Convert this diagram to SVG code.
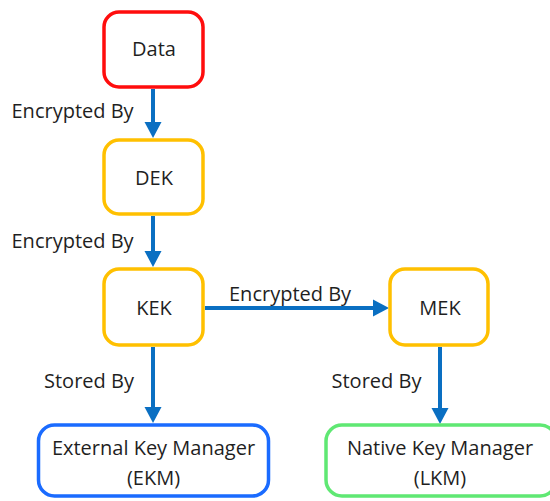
<svg xmlns="http://www.w3.org/2000/svg" width="550" height="501" viewBox="0 0 550 501">
<style>
  .box { fill: #ffffff; stroke-width: 3.5; }
  .red { stroke: #ff0d0d; }
  .yel { stroke: #ffc000; }
  .blu { stroke: #1a6bff; }
  .grn { stroke: #5fe873; }
  text { font-family: "Open Sans", "Noto Sans", sans-serif; font-size: 20px; fill: #1f1f1f; }
  .c { text-anchor: middle; }
  .shaft { stroke: #0a6fc2; stroke-width: 4; fill: none; }
  .head { fill: #0a6fc2; }
</style>
<rect width="550" height="501" fill="#ffffff"/>
<g id="connectors">
  <g id="data-dek">
    <line class="shaft" x1="153" y1="89" x2="153" y2="124"/>
    <polygon class="head" points="144.5,122 161.5,122 153,138"/>
  </g>
  <g id="dek-kek">
    <line class="shaft" x1="153" y1="216" x2="153" y2="253"/>
    <polygon class="head" points="144.5,251 161.5,251 153,267"/>
  </g>
  <g id="kek-mek">
    <line class="shaft" x1="205" y1="308" x2="375" y2="308"/>
    <polygon class="head" points="373,299.5 373,316.5 389,308"/>
  </g>
  <g id="kek-ekm">
    <line class="shaft" x1="153" y1="347" x2="153" y2="409"/>
    <polygon class="head" points="144.5,407 161.5,407 153,423"/>
  </g>
  <g id="mek-lkm">
    <line class="shaft" x1="440" y1="347" x2="440" y2="410"/>
    <polygon class="head" points="431.5,408 448.5,408 440,424"/>
  </g>
  <text x="11.5" y="118">Encrypted By</text>
  <text x="11.5" y="248">Encrypted By</text>
  <text x="229" y="301">Encrypted By</text>
  <text x="44" y="388">Stored By</text>
  <text x="331.5" y="388">Stored By</text>
</g>
<g id="data">
  <rect class="box red" x="104" y="12" width="99" height="75" rx="15"/>
  <text class="c" x="154" y="56">Data</text>
</g>
<g id="dek">
  <rect class="box yel" x="104" y="140" width="99" height="74" rx="15"/>
  <text class="c" x="154" y="185">DEK</text>
</g>
<g id="kek">
  <rect class="box yel" x="104" y="269" width="99" height="76" rx="15"/>
  <text class="c" x="154" y="315">KEK</text>
</g>
<g id="mek">
  <rect class="box yel" x="390" y="269" width="98" height="76" rx="15"/>
  <text class="c" x="440" y="315">MEK</text>
</g>
<g id="ekm">
  <rect class="box blu" x="38.5" y="425" width="230" height="71" rx="16"/>
  <text class="c" x="153.5" y="455">External Key Manager</text>
  <text class="c" x="153.5" y="485">(EKM)</text>
</g>
<g id="lkm">
  <rect class="box grn" x="326" y="425" width="230" height="71" rx="16"/>
  <text class="c" x="440" y="455">Native Key Manager</text>
  <text class="c" x="440" y="485">(LKM)</text>
</g>
</svg>
